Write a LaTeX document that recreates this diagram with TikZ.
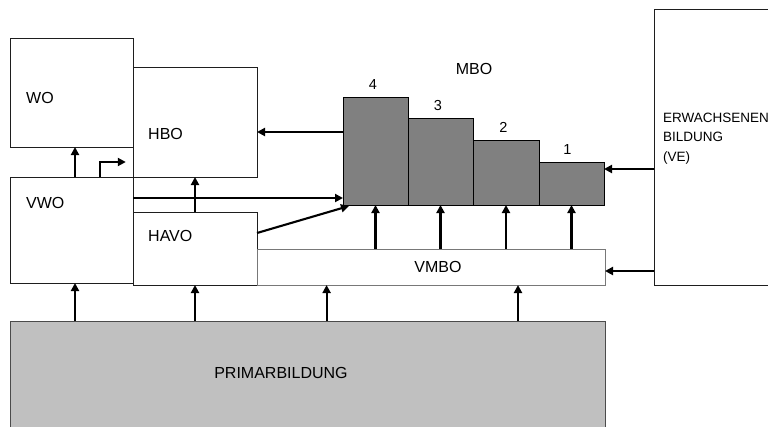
\documentclass[tikz,border=0pt]{standalone}
\usepackage{fontspec}
\setmainfont{Liberation Sans}
\usetikzlibrary{arrows.meta, positioning, calc}
\definecolor{nlframe}{HTML}{1E1E1E}
\definecolor{nlbar}{HTML}{808080}
\definecolor{nlbase}{HTML}{C0C0C0}

\begin{document}
\begin{tikzpicture}[x=1pt, y=-1pt,
  box/.style={draw=nlframe, fill=white, line width=0.9pt, inner sep=0pt, outer sep=0pt},
  bar/.style={draw=black, fill=nlbar, line width=0.9pt, inner sep=0pt, outer sep=0pt,
    minimum width=65, anchor=south west},
  lbl/.style={font=\fontsize{16}{19}\selectfont, inner sep=0pt, anchor=west},
  num/.style={font=\fontsize{14.5}{17}\selectfont, inner sep=0pt},
  arrow/.style={-{Triangle[length=8pt, width=8pt]}, line width=2.1pt, draw=black}]
  \useasboundingbox (0,0) rectangle (768,426);
  % boxes
  \node[box, fill=nlbase, draw=nlframe!80, minimum width=595, minimum height=110] (primar) at (307.5,376) {};
  \node[box, minimum width=123, minimum height=109] (wo) at (71.5,92.5) {};
  \node[box, minimum width=124, minimum height=110] (hbo) at (195,122) {};
  \node[box, minimum width=123, minimum height=106] (vwo) at (71.5,230) {};
  \node[box, minimum width=124, minimum height=73] (havo) at (195,248.5) {};
  \node[box, draw=nlframe!60, minimum width=348, minimum height=36] (vmbo) at (431,267) {};
  \node[box, minimum width=126, minimum height=276] (ve) at (717,147) {};
  % MBO levels
  \node[bar, minimum height=108] (m4) at (343,205) {};
  \node[bar, minimum height=87] (m3) at (m4.south east) {};
  \node[bar, minimum height=65, minimum width=66] (m2) at (m3.south east) {};
  \node[bar, minimum height=43] (m1) at (m2.south east) {};
  % texts
  \node[lbl] (wo-t) at ($(wo.north west)+(16,60)$) {WO};
  \node[lbl] (hbo-t) at ($(hbo.north west)+(15,67)$) {HBO};
  \node[lbl] (vwo-t) at ($(vwo.north west)+(16,25.5)$) {VWO};
  \node[lbl] (havo-t) at ($(havo.north west)+(15,24)$) {HAVO};
  \node[lbl, anchor=center] (vmbo-t) at ($(vmbo)+(7,0)$) {VMBO};
  \node[lbl, anchor=center] (primar-t) at (281,373) {PRIMARBILDUNG};
  \node[lbl, anchor=center] (mbo-t) at (474,69) {MBO};
  \node[font=\fontsize{13.5}{19.2}\selectfont, inner sep=0pt, anchor=north west, align=left]
    (ve-t) at (663,113) {ERWACHSENEN\\BILDUNG\\(VE)};
  \node[num, above=7.5pt of m4, xshift=-2.5pt] (n4) {4};
  \node[num, above=7.5pt of m3, xshift=-2.5pt] (n3) {3};
  \node[num, above=7.5pt of m2, xshift=-2.5pt] (n2) {2};
  \node[num, above=7.5pt of m1, xshift=-4pt] (n1) {1};
  % helper points
  \coordinate (vwo-out) at ([yshift=-21pt]vwo.north east);
  \coordinate (havo-out) at ([yshift=-21pt]havo.north east);
  \coordinate (m4-in) at ([xshift=6pt, yshift=-1pt]m4.south west);
  \coordinate (hbo-in) at ([yshift=-10pt]hbo.east);
  \coordinate (m1-in) at ([yshift=-7pt]m1.north east);
  \coordinate (vmbo-in) at ([yshift=-4pt]vmbo.east);
  \coordinate (vwo-up) at ($(vwo.north west)!0.73!(vwo.north east)$);
  \coordinate (vwo-dn) at ([xshift=3.5pt]vwo.south);
  \coordinate (p1) at ($(vmbo.south west)!0.2!(vmbo.south east)$);
  \coordinate (p2) at ($(vmbo.south west)!0.75!(vmbo.south east)$);
  % arrows
  \draw[arrow] (primar.north -| vwo-dn) -- (vwo-dn);
  \draw[arrow] (primar.north -| havo) -- (havo.south);
  \draw[arrow] (primar.north -| p1) -- (p1);
  \draw[arrow] (primar.north -| p2) -- (p2);
  \draw[arrow] (vwo-dn |- vwo.north) -- (vwo-dn |- wo.south);
  \draw[arrow] (vwo-up) -- ++(0,-15) -- ++(26,0);
  \draw[arrow] (havo.north) -- (hbo.south);
  \draw[arrow] (vwo-out) -- (vwo-out -| m4.west);
  \draw[arrow] (havo-out) -- (m4-in);
  \draw[arrow] (hbo-in -| m4.west) -- (hbo-in);
  \draw[arrow] (m4.south |- vmbo.north) -- (m4.south);
  \draw[arrow] (m3.south |- vmbo.north) -- (m3.south);
  \draw[arrow] (m2.south |- vmbo.north) -- (m2.south);
  \draw[arrow] (m1.south |- vmbo.north) -- (m1.south);
  \draw[arrow] (m1-in -| ve.west) -- (m1-in);
  \draw[arrow] (vmbo-in -| ve.west) -- (vmbo-in);
\end{tikzpicture}
\end{document}
